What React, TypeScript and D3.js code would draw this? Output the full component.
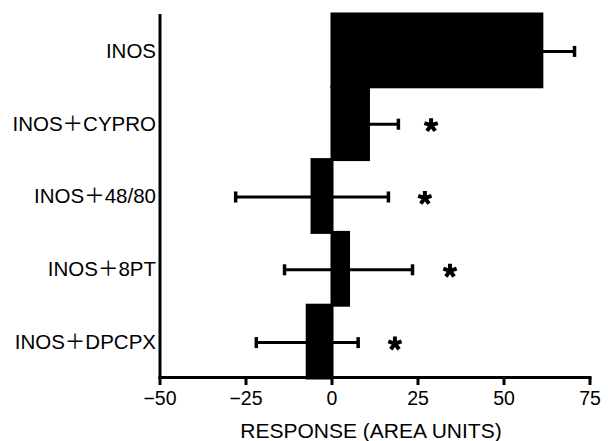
import React from "react";
import * as d3 from "d3";

const categories = ["INOS", "INOS\uFF0BCYPRO", "INOS\uFF0B48/80", "INOS\uFF0B8PT", "INOS\uFF0BDPCPX"];
const means = [61, 10.6, -5.8, 4.8, -7.2];
const errors = [9.5, 8.7, 22.2, 18.6, 14.8];
const starX = [null, 28.8, 27.0, 34.3, 18.3];
const xTicks = [-50, -25, 0, 25, 50, 75];
const xTitle = "RESPONSE (AREA UNITS)";

const W = 608;
const H = 441;
const FONT = "'Liberation Sans', Arial, Helvetica, 'Noto Sans CJK JP', sans-serif";

export default function App() {
  const x = d3.scaleLinear().domain([-50, 75]).range([160, 590]);
  const y = d3.scaleBand<string>().domain(categories).range([14, 378]).padding(0);
  const bw = y.bandwidth();

  const fmt = (v: number) => (v < 0 ? "\u2212" + Math.abs(v) : String(v));

  const starPath = (cx: number, cy: number, r: number) => {
    const p = d3.path();
    for (let k = 0; k < 5; k++) {
      const a = ((-90 + 72 * k) * Math.PI) / 180;
      p.moveTo(cx, cy);
      p.lineTo(cx + r * Math.cos(a), cy + r * Math.sin(a));
    }
    return p.toString();
  };

  return (
    <svg
      width={W}
      height={H}
      style={{ position: "absolute", left: 0, top: 0, display: "block", background: "#fff" }}
      fontFamily={FONT}
    >
      {categories.map((c, i) => {
        const x0 = x(Math.min(0, means[i]));
        const x1 = x(Math.max(0, means[i]));
        return (
          <rect
            key={c}
            x={x0}
            y={y(c)!}
            width={x1 - x0}
            height={bw}
            fill="#000"
            stroke="#000"
            strokeWidth={3}
          />
        );
      })}
      {categories.map((c, i) => {
        const cy = y(c)! + bw / 2 + 1;
        const lo = x(means[i] - errors[i]);
        const hi = x(means[i] + errors[i]);
        return (
          <g key={"e" + c} stroke="#000">
            <line x1={lo} x2={hi} y1={cy} y2={cy} strokeWidth={3} />
            <line x1={lo} x2={lo} y1={cy - 5.5} y2={cy + 5.5} strokeWidth={3.5} />
            <line x1={hi} x2={hi} y1={cy - 5.5} y2={cy + 5.5} strokeWidth={3.5} />
          </g>
        );
      })}
      {categories.map((c, i) =>
        starX[i] == null ? null : (
          <path
            key={"s" + c}
            d={starPath(x(starX[i] as number), y(c)! + bw / 2 + 2, 7)}
            stroke="#000"
            strokeWidth={4}
            fill="none"
          />
        )
      )}
      <line x1={x(-50)} x2={x(-50)} y1={14} y2={379} stroke="#000" strokeWidth={3} />
      {categories.map((c) => (
        <text
          key={"l" + c}
          x={156}
          y={y(c)! + bw / 2}
          dy="0.36em"
          textAnchor="end"
          fontSize={20.5}
          fill="#000"
        >
          {c}
        </text>
      ))}
      <line x1={x(-50) - 1.5} x2={x(75) + 1.5} y1={377.5} y2={377.5} stroke="#000" strokeWidth={3} />
      {xTicks.map((t) => (
        <g key={"t" + t}>
          <line x1={x(t)} x2={x(t)} y1={377.5} y2={385} stroke="#000" strokeWidth={3} />
          <text x={x(t)} y={405} textAnchor="middle" fontSize={19.5} fill="#000">
            {fmt(t)}
          </text>
        </g>
      ))}
      <text x={371} y={438} textAnchor="middle" fontSize={21} fill="#000">
        {xTitle}
      </text>
    </svg>
  );
}
